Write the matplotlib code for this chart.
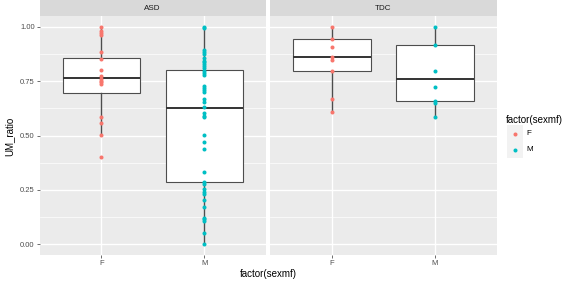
import numpy as np
import matplotlib
matplotlib.use("Agg")
import matplotlib.pyplot as plt
from matplotlib.patches import Rectangle
from matplotlib.lines import Line2D

plt.rcParams['font.family'] = ['Liberation Sans', 'DejaVu Sans']

groups = ["ASD", "TDC"]
sexes = ["F", "M"]
colors = {"F": "#F8766D", "M": "#00BFC4"}

# UM_ratio values
asd_f = [1.00, 0.98, 0.971, 0.963, 0.883, 0.851, 0.803, 0.772, 0.760, 0.752,
         0.745, 0.737, 0.586, 0.557, 0.503, 0.403]
asd_m = [1.00, 0.995, 0.894, 0.883, 0.875, 0.855, 0.845, 0.837, 0.829, 0.821,
         0.809, 0.798, 0.786, 0.778, 0.729, 0.718, 0.709, 0.699, 0.668, 0.655,
         0.629, 0.602, 0.591, 0.583, 0.503, 0.471, 0.437, 0.334, 0.286, 0.275,
         0.252, 0.240, 0.229, 0.202, 0.171, 0.122, 0.114, 0.106, 0.053, 0.0]
tdc_f = [1.00, 0.945, 0.906, 0.860, 0.849, 0.798, 0.668, 0.606]
tdc_m = [1.00, 0.918, 0.798, 0.725, 0.660, 0.649, 0.583]

points = {("ASD", "F"): asd_f, ("ASD", "M"): asd_m,
          ("TDC", "F"): tdc_f, ("TDC", "M"): tdc_m}

# box statistics: whisker low, q1, median, q3, whisker high
box_stats = {("ASD", "F"): [0.503, 0.697, 0.766, 0.858, 1.00],
             ("ASD", "M"): [0.0, 0.285, 0.628, 0.802, 1.00],
             ("TDC", "F"): [0.606, 0.798, 0.860, 0.945, 1.00],
             ("TDC", "M"): [0.583, 0.657, 0.760, 0.918, 1.00]}

W, H = 567, 281
fig = plt.figure(figsize=(W / 100, H / 100), dpi=100)

panel_x = [39.5, 270.3]
panel_w = 226.4
top, bottom = 16, 255
strip_h = 16

for gi, g in enumerate(groups):
    ax = fig.add_axes([panel_x[gi] / W, (H - bottom) / H, panel_w / W, (bottom - top) / H])
    ax.set_facecolor("#EBEBEB")
    for s in ax.spines.values():
        s.set_visible(False)

    stats = []
    for si, sx in enumerate(sexes):
        lo, q1, med, q3, hi = box_stats[(g, sx)]
        stats.append(dict(whislo=lo, q1=q1, med=med, q3=q3, whishi=hi, fliers=[]))
    ax.bxp(stats, positions=[1, 2], widths=0.75, patch_artist=True, showcaps=False,
           manage_ticks=False,
           boxprops=dict(facecolor="white", edgecolor="#4D4D4D", lw=0.8),
           medianprops=dict(color="#333333", lw=1.4),
           whiskerprops=dict(color="#4D4D4D", lw=1.0), zorder=2)

    for si, sx in enumerate(sexes):
        vals = points[(g, sx)]
        ax.plot(np.full(len(vals), si + 1), vals, "o", ms=2.9, color=colors[sx],
                mec="none", zorder=3)

    ax.set_xlim(0.4, 2.6)
    ax.set_ylim(-0.05, 1.05)
    ax.set_yticks([0, 0.25, 0.5, 0.75, 1.0])
    ax.set_yticks([0.125, 0.375, 0.625, 0.875], minor=True)
    ax.set_xticks([1, 2])
    ax.set_xticklabels(sexes)
    ax.grid(True, which="major", color="white", lw=1.0)
    ax.grid(True, which="minor", axis="y", color="white", lw=0.5)
    ax.set_axisbelow(True)
    ax.tick_params(which="minor", length=0)
    ax.tick_params(which="major", length=2, width=0.5, color="#333333",
                   labelsize=5.5, labelcolor="#4D4D4D", pad=1.5)
    if gi == 0:
        ax.set_yticklabels(["0.00", "0.25", "0.50", "0.75", "1.00"])
    else:
        ax.tick_params(axis="y", left=False, labelleft=False)

    sax = fig.add_axes([panel_x[gi] / W, (H - top) / H, panel_w / W, strip_h / H])
    sax.set_facecolor("#D9D9D9")
    sax.set_xticks([])
    sax.set_yticks([])
    for s in sax.spines.values():
        s.set_visible(False)
    sax.text(0.5, 0.5, g, ha="center", va="center", fontsize=5.8, color="#1A1A1A",
             transform=sax.transAxes)

fig.text(268 / W, 1 - 274 / H, "factor(sexmf)", ha="center", va="center", fontsize=7)
fig.text(9 / W, 1 - 136 / H, "UM_ratio", ha="center", va="center", fontsize=7, rotation=90)

# legend
fig.text(506 / W, 1 - 120 / H, "factor(sexmf)", ha="left", va="center", fontsize=7)
for i, sx in enumerate(sexes):
    yc = 133.5 + i * 16
    fig.patches.append(Rectangle(((515 - 8) / W, 1 - (yc + 8) / H), 16 / W, 16 / H,
                                 transform=fig.transFigure, facecolor="#F2F2F2",
                                 edgecolor="none"))
    fig.lines.append(Line2D([515 / W], [1 - yc / H], marker="o", ms=2.9,
                            color=colors[sx], mec="none", transform=fig.transFigure))
    fig.text(526 / W, 1 - yc / H, sx, ha="left", va="center", fontsize=5.8)

fig.savefig("out.png", dpi=100)
